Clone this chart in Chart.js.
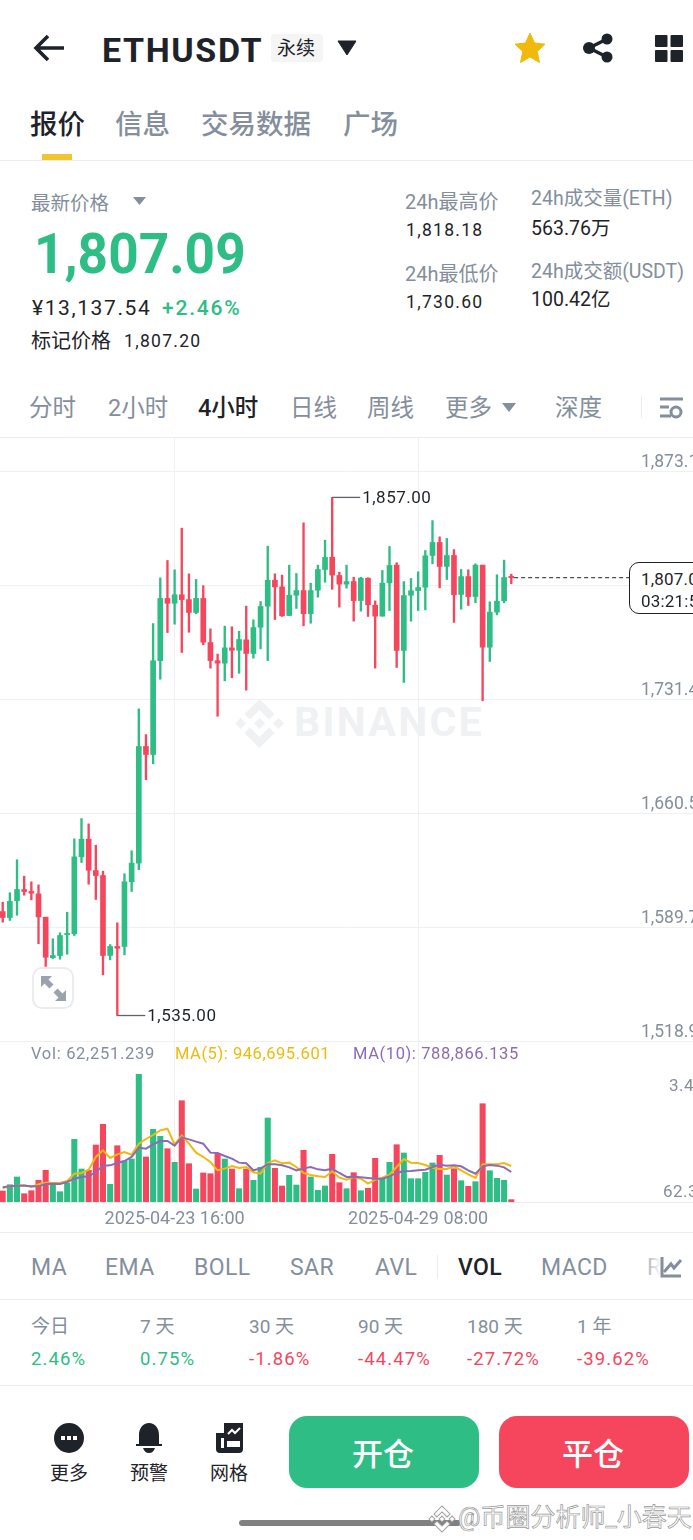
<!DOCTYPE html>
<html><head><meta charset="utf-8">
<script src="https://cdn.jsdelivr.net/npm/chart.js@4"></script>
<style>
html,body{margin:0;padding:0;background:#fff;width:693px;height:1540px;overflow:hidden;font-family:Roboto,"Noto Sans CJK SC",sans-serif}
#ui{position:absolute;left:0;top:0;width:693px;height:1540px;overflow:hidden}
.t{position:absolute;white-space:nowrap;transform:translateY(-50%);line-height:1.2}
.r{position:absolute}
svg{position:absolute;overflow:visible}
canvas{position:absolute;left:0;top:437px}
</style></head><body>
<div id="ui">
<svg id="wm" style="left:235px;top:699px" width="49" height="49" viewBox="0 0 126.6 126.6" fill="#f0f1f3"><path d="M38.730 53.200L63.320 28.620 87.920 53.220 102.220 38.910 63.320 0 24.430 38.900z M0 63.310L14.300 49 28.610 63.310 14.300 77.610z M38.730 73.410L63.320 98 87.920 73.400 102.230 87.690 63.320 126.600 24.430 87.700z M98 63.310L112.300 49 126.600 63.300 112.300 77.610z M77.830 63.300L63.320 48.780 48.810 63.280 63.320 77.780z"/></svg>
<canvas id="c" width="693" height="795" style="width:693px;height:795px"></canvas>
</div>
<script>
// ---- data ----
const highs=[1605.4,1611.3,1631.8,1621.6,1618.1,1616.2,1596.1,1582.7,1586.4,1599.2,
1644.8,1657.4,1654.1,1640.8,1624.7,1579.1,1592.6,1623.1,1637.4,1725.6,
1709.6,1778.6,1807.0,1817.8,1812.0,1837.9,1809.5,1806.0,1802.1,1775.3,
1759.6,1777.0,1776.6,1773.8,1789.4,1780.9,1792.3,1826.7,1809.5,1808.7,
1814.9,1809.7,1841.2,1803.7,1814.9,1830.4,1857.0,1810.5,1814.9,1807.4,
1807.4,1807.0,1792.7,1811.6,1826.5,1816.4,1804.7,1806.6,1810.8,1824.0,
1842.6,1832.5,1831.5,1824.6,1812.2,1812.0,1815.7,1814.9,1792.1,1808.9,
1818.0,1809.3];
const lows=[1593.0,1594.1,1597.3,1609.8,1606.9,1579.6,1565.5,1570.4,1570.0,1573.1,
1584.7,1630.1,1616.6,1607.1,1560.3,1569.6,1535.0,1572.7,1612.1,1625.6,
1681.5,1691.4,1744.0,1773.0,1778.2,1760.6,1773.2,1784.7,1765.4,1750.9,
1721.0,1743.0,1744.9,1747.7,1737.2,1757.1,1762.9,1755.6,1781.1,1783.0,
1783.6,1788.0,1777.2,1778.8,1795.0,1804.3,1799.9,1788.8,1800.6,1780.1,
1786.3,1783.0,1750.9,1783.2,1786.7,1751.3,1742.0,1780.1,1786.7,1787.1,
1815.7,1800.8,1806.0,1779.3,1787.5,1789.8,1791.5,1730.6,1755.0,1784.0,
1791.5,1803.3];
const opens=[1599.6,1595.9,1606.3,1613.3,1612.1,1610.6,1596.1,1570.9,1572.3,1585.2,
1585.8,1633.6,1644.6,1625.1,1622.0,1572.3,1577.9,1577.9,1618.1,1629.7,
1702.2,1697.2,1755.5,1794.2,1791.2,1796.5,1793.5,1785.5,1794.2,1766.8,
1755.5,1754.0,1763.5,1762.0,1768.5,1760.0,1776.3,1789.4,1805.5,1801.4,
1783.6,1796.2,1799.1,1784.7,1799.3,1812.2,1819.8,1808.5,1803.1,1804.7,
1792.9,1806.8,1790.0,1783.2,1803.9,1814.9,1761.9,1796.2,1799.1,1801.2,
1820.9,1829.0,1814.1,1820.9,1796.7,1807.8,1795.4,1814.9,1763.9,1785.7,
1792.7,1807.9];
const closes=[1595.9,1605.9,1613.3,1612.1,1611.0,1596.3,1571.2,1572.3,1584.7,1586.0,
1633.6,1644.6,1625.3,1622.0,1572.3,1577.9,1576.8,1618.1,1629.7,1702.2,
1697.2,1755.5,1794.2,1791.2,1796.5,1793.5,1785.5,1794.2,1767.0,1755.6,
1754.0,1763.5,1762.0,1768.7,1760.0,1776.1,1789.2,1805.5,1801.4,1783.4,
1796.2,1799.1,1784.7,1799.1,1812.2,1819.7,1808.7,1803.1,1804.7,1792.9,
1806.8,1790.3,1783.2,1803.7,1814.7,1761.9,1796.0,1799.0,1801.0,1820.7,
1829.0,1814.1,1820.9,1796.5,1807.8,1795.4,1814.9,1763.9,1785.7,1792.5,
1807.2,1807.09];
// volume in thousands of ETH
const volumes=[289,455,658,218,297,571,834,455,271,500,
1649,868,834,1499,2044,466,1481,1078,1131,3359,
1184,1912,1728,1402,1044,2664,1007,342,763,744,
1270,1131,868,350,868,571,913,2209,886,421,
702,447,1360,658,308,421,1255,508,350,771,
297,360,1149,613,1044,1507,1289,613,613,781,
1026,1228,710,876,560,413,534,2585,823,623,
571,62.25];
const ma5=[368,412,430,447,395,465,508,500,500,552,
745,763,850,1184,1359,1157,1254,1315,1245,1534,
1657,1762,1885,1929,1517,1745,1534,1298,1184,1052,
833,877,947,894,921,780,745,1026,1096,1017,
1035,921,763,710,675,658,807,640,587,658,
614,482,587,640,719,921,1131,1035,1026,973,
903,868,868,938,833,728,631,991,991,991,
1026,946.7];
const ma10=[386,412,430,430,412,412,473,482,473,526,
614,658,675,789,956,964,1026,1078,1184,1429,
1403,1517,1604,1604,1482,1701,1648,1587,1534,1298,
1289,1210,1140,1035,1017,833,885,991,991,964,
912,833,885,921,859,833,877,763,658,666,
649,631,614,614,675,771,807,815,833,850,
921,982,956,964,938,833,745,938,973,956,
912,788.9];
const priceTicks=[1873.1,1802.3,1731.4,1660.5,1589.7,1518.9];
const timeTickIndex=[24,58];
const timeTickLabels=['2025-04-23 16:00','2025-04-29 08:00'];
const volTicks=[3400,62.3];
const volTickLabels=['3.4','62.3'];
const lastPrice=1807.09;
const extremeIndex=[46,16];

// ---- style ----
const UP='#2ebd85',DOWN='#f6465d',GRID='#eef0f2',DARK='#1e2329',GRAY='#848e9c',YEL='#f0b90b',PUR='#8d6ab8';
const NUM='Roboto,"Noto Sans CJK SC",sans-serif';
const colors=closes.map((c,i)=>c>=opens[i]?UP:DOWN);
const idx=closes.map((_,i)=>i);

const extremes={id:'extremes',afterDatasetsDraw(ch){
  const c=ch.ctx,x=ch.scales.x,y=ch.scales.price,v=ch.scales.vol;
  c.save();c.font='17px '+NUM;c.textBaseline='middle';c.textAlign='left';
  try{c.letterSpacing='0.5px'}catch(e){}
  extremeIndex.forEach((i,k)=>{
    const val=k===0?highs[i]:lows[i];
    const px=x.getPixelForValue(i),py=y.getPixelForValue(val);
    c.strokeStyle='#5f646b';c.lineWidth=1.3;c.beginPath();c.moveTo(px,py);c.lineTo(px+28,py);c.stroke();
    c.fillStyle=DARK;
    c.fillText(val.toLocaleString('en-US',{minimumFractionDigits:2}),px+30,py+1);
  });
  c.fillStyle=GRAY;
  volTicks.forEach((t,k)=>{
    const py=v.getPixelForValue(t);
    c.fillText(volTickLabels[k],k===0?669:663,py+(k===0?14:-7));
  });
  c.restore();
}};

new Chart(document.getElementById('c'),{
  type:'bar',
  data:{datasets:[
    {type:'line',label:'MA(10)',data:ma10.map((y,i)=>({x:i,y})),yAxisID:'vol',borderColor:PUR,borderWidth:2,pointRadius:0,order:1},
    {type:'line',label:'MA(5)',data:ma5.map((y,i)=>({x:i,y})),yAxisID:'vol',borderColor:YEL,borderWidth:2,pointRadius:0,order:2},
    {label:'Vol',data:volumes.map((y,i)=>({x:i,y})),yAxisID:'vol',backgroundColor:colors,barThickness:5.4,order:5},
    {label:'Body',data:idx.map(i=>({x:i,y:[opens[i],closes[i]]})),yAxisID:'price',backgroundColor:colors,barThickness:5,minBarLength:1.2,order:3},
    {label:'Wick',data:idx.map(i=>({x:i,y:[lows[i],highs[i]]})),yAxisID:'price',backgroundColor:colors,barThickness:1.7,order:4},
    {type:'line',label:'Last',data:[{x:71.4,y:lastPrice},{x:87.5,y:lastPrice}],yAxisID:'price',borderColor:DARK,borderWidth:1,borderDash:[4,3],pointRadius:0,order:0}
  ]},
  options:{
    responsive:false,maintainAspectRatio:false,animation:false,
    layout:{padding:0},
    plugins:{legend:{display:false},tooltip:{enabled:false}},
    datasets:{bar:{grouped:false,borderSkipped:false}},
    scales:{
      x:{type:'linear',min:-0.377,max:96.37,offset:false,
        afterBuildTicks:s=>{s.ticks=timeTickIndex.map(value=>({value}))},
        afterFit:s=>{s.height=30},
        grid:{color:GRID,lineWidth:1,drawTicks:false,offset:false},border:{display:false},
        ticks:{autoSkip:false,maxRotation:0,padding:7,color:GRAY,font:{family:NUM,size:18},
          callback:v=>timeTickLabels[timeTickIndex.indexOf(v)]||''}},
      price:{type:'linear',position:'left',min:1419.1,max:1894.54,
        afterBuildTicks:s=>{s.ticks=priceTicks.map(value=>({value}))},
        afterFit:s=>{s.width=0;s.paddingTop=0;s.paddingBottom=0;s.paddingLeft=0;s.paddingRight=0},
        grid:{color:GRID,lineWidth:1,drawTicks:false},border:{display:false},
        ticks:{mirror:true,padding:641,labelOffset:-9,color:GRAY,font:{family:NUM,size:17.5},
          callback:v=>v.toLocaleString('en-US',{minimumFractionDigits:1,maximumFractionDigits:1})}},
      vol:{type:'linear',position:'left',display:false,min:0,max:20119.5,grid:{display:false}}
    }
  },
  plugins:[extremes]
});

// ---- surrounding app screen ----
const ui=document.getElementById('ui');
function T(s,x,y,size,color,weight,extra){
  const e=document.createElement('div');e.className='t';e.textContent=s;
  e.style.cssText=`left:${x}px;top:${y}px;font-size:${size}px;color:${color};font-weight:${weight||400};${extra||''}`;
  ui.appendChild(e);return e;
}
function R(x,y,w,h,bg,extra){
  const e=document.createElement('div');e.className='r';
  e.style.cssText=`left:${x}px;top:${y}px;width:${w}px;height:${h}px;background:${bg};${extra||''}`;
  ui.appendChild(e);return e;
}
function S(x,y,w,h,vb,body){
  const d=document.createElement('div');
  d.innerHTML=`<svg style="left:${x}px;top:${y}px" width="${w}" height="${h}" viewBox="${vb}">${body}</svg>`;
  ui.appendChild(d.firstChild);
}
// watermark text beneath canvas
const wm=T('BINANCE',294,723,41,'#f0f1f3',700,'letter-spacing:2.3px;');
ui.insertBefore(wm,document.getElementById('c'));

// header
S(33,33,32,30,'0 0 32 30',`<path d="M15 3 L3 15 L15 27 M3 15 H31" fill="none" stroke="${DARK}" stroke-width="3.6"/>`);
T('ETHUSDT',102,50,34,DARK,700,'letter-spacing:1.6px;');
R(271,34,52,28,'#f5f5f5','border-radius:4px;');
T('永续',277,49,19,DARK);
S(338,41,18,14,'0 0 18 14',`<path d="M0 0 H18 L9 14Z" fill="${DARK}" stroke="${DARK}" stroke-linejoin="round"/>`);
S(514,32,32,32,'0 0 32 32',`<path d="M16 1 L20.500 11 L31 12.200 L23.200 19.500 L25.500 30.500 L16 25 L6.500 30.500 L8.800 19.500 L1 12.200 L11.500 11Z" fill="#f0b90b" stroke="#f0b90b" stroke-linejoin="round"/>`);
S(583,33,30,30,'0 0 30 30',`<g fill="${DARK}"><circle cx="6" cy="15" r="6"/><circle cx="24" cy="6" r="5.500"/><circle cx="24" cy="24" r="5.500"/></g><path d="M6 15 L24 6 M6 15 L24 24" stroke="${DARK}" stroke-width="3.500"/>`);
S(655,35,28,27,'0 0 28 27',`<g fill="${DARK}"><rect width="12.500" height="12" rx="1"/><rect x="15.500" width="12.500" height="12" rx="1"/><rect y="15" width="12.500" height="12" rx="1"/><rect x="15.500" y="15" width="12.500" height="12" rx="1"/></g>`);
// tabs
T('报价',30,124,27.5,DARK,500);T('信息',115,124,27.5,GRAY,500);T('交易数据',201,124,27.5,GRAY,500);T('广场',343,124,27.5,GRAY,500);
R(42,154,30,6,'#f0c52f');R(0,160,693,1,'#eaecef');
// quote
T('最新价格',31,204,19.5,GRAY);
S(133,197,13,8,'0 0 13 8',`<path d="M0 0H13L6.500 8Z" fill="${GRAY}"/>`);
T('1,807.09',34,255,56,UP,700,'transform:translateY(-50%) scaleX(.95);transform-origin:left center;');
T('¥13,137.54',32,309,21,DARK,400,'letter-spacing:1.6px;');
T('+2.46%',162,309,21,UP,500,'letter-spacing:1.8px;');
T('标记价格',31,341,20,DARK);T('1,807.20',124,340.5,17.5,DARK,400,'letter-spacing:1.3px;');
T('24h最高价',405,202,20,GRAY);T('1,818.18',406,229.5,17.5,DARK,400,'letter-spacing:1.3px;');
T('24h成交量(ETH)',531,199,19.5,GRAY);T('563.76万',531,229,19.5,DARK);
T('24h最低价',405,274,20,GRAY);T('1,730.60',406,301.5,17.5,DARK,400,'letter-spacing:1.3px;');
T('24h成交额(USDT)',531,272,19.5,GRAY);T('100.42亿',531,300,19.5,DARK);
// periods
[['分时',29],['2小时',108],['日线',290],['周线',367],['更多',445],['深度',555]].forEach(a=>T(a[0],a[1],408,23.5,GRAY));
T('4小时',198,408,23.5,DARK,500);
S(502,403,14,9,'0 0 14 9',`<path d="M0 0H14L7 9Z" fill="${GRAY}"/>`);
R(641,395,1,23,'#eaecef');
S(659,396,25,23,'0 0 25 23',`<path d="M1 3H24M1 11H10M1 20H12" stroke="${GRAY}" stroke-width="3" fill="none"/><circle cx="17" cy="16" r="5" fill="none" stroke="${GRAY}" stroke-width="3"/>`);
R(0,437,693,1,'#eaecef');
// price tag
R(629,562,90,52,'#fff',`border:1px solid ${DARK};border-radius:10px;box-sizing:border-box;`);
T('1,807.09',641,579,17,DARK,400,'letter-spacing:.2px;');T('03:21:59',641,601,17,DARK,400,'letter-spacing:.2px;');
// expand button
R(32,967,42,42,'#fff','border:2px solid #eaecef;border-radius:10px;box-sizing:border-box;');
S(41,976,25,25,'0 0 25 25',`<g fill="#9aa2ad"><path d="M0 0 H11 L7.500 3.500 L12.500 8.500 L8.500 12.500 L3.500 7.500 L0 11Z"/><path d="M25 25 H14 L17.500 21.500 L12.500 16.500 L16.500 12.500 L21.500 17.500 L25 14Z"/></g>`);
// volume legend
T('Vol: 62,251.239',31,1054,16.5,GRAY,400,'letter-spacing:.7px;');
T('MA(5): 946,695.601',175,1054,16.5,YEL,400,'letter-spacing:.55px;');
T('MA(10): 788,866.135',353,1054,16.5,PUR,400,'letter-spacing:.6px;');
R(0,1202,693,1,'#eaecef');R(0,1232,693,1,'#eaecef');
// indicators
[['MA',31],['EMA',105],['BOLL',194],['SAR',290],['AVL',375],['MACD',541],['RSI',647]].forEach(a=>T(a[0],a[1],1268,23,GRAY,400,'letter-spacing:.4px;'));
R(640,1250,53,34,'linear-gradient(90deg,rgba(255,255,255,0),#fff 40%)');
T('VOL',458,1268,23,DARK,500,'letter-spacing:.4px;');
R(437,1255,1,24,'#eaecef');
S(660,1256,22,22,'0 0 22 22',`<path d="M2 1V20H21" fill="none" stroke="${GRAY}" stroke-width="3"/><path d="M4 16L11 8L14 12L21 4" fill="none" stroke="${GRAY}" stroke-width="3"/>`);
R(0,1299,693,1,'#eaecef');
// performance
[['今日',31,'2.46%',UP],['7 天',140,'0.75%',UP],['30 天',249,'-1.86%',DOWN],['90 天',358,'-44.47%',DOWN],['180 天',467,'-27.72%',DOWN],['1 年',577,'-39.62%',DOWN]].forEach(a=>{
  T(a[0],a[1],1327,19,GRAY);T(a[2],a[1],1359,18.5,a[3],400,'letter-spacing:1.1px;');
});
R(0,1385,693,1,'#eaecef');
// bottom
S(54,1423,30,30,'0 0 30 30',`<circle cx="15" cy="15" r="15" fill="${DARK}"/><g fill="#fff"><rect x="7" y="13" width="4" height="4"/><rect x="13" y="13" width="4" height="4"/><rect x="19" y="13" width="4" height="4"/></g>`);
S(135,1423,28,30,'0 0 28 30',`<path d="M4 21V12C4 5 8 0 14 0S24 5 24 12V21H27V23H1V21Z M8 25H20C19 28 17 30 14 30S9 28 8 25Z" fill="${DARK}"/>`);
S(216,1423,27,30,'0 0 27 30',`<path d="M8 0H27V26Q27 30 23 30H4Q0 30 0 26V10H8Z" fill="${DARK}"/><path d="M12 11L16 7L19 10L24 5" stroke="#fff" stroke-width="2" fill="none"/><rect x="5" y="15" width="3" height="10" fill="#fff"/><rect x="11" y="18" width="13" height="6" fill="#fff"/>`);
T('更多',50,1474,19,DARK);T('预警',130,1474,19,DARK);T('网格',210,1474,19,DARK);
R(289,1416,190,72,UP,'border-radius:18px;');R(499,1416,190,72,DOWN,'border-radius:18px;');
T('开仓',352,1455,31,'#fff',500);T('平仓',562,1455,31,'#fff',500);
R(239,1520,222,6,'#808080','border-radius:3px;');
S(428,1506,28,26,'0 0 126.6 126.6',`<path d="M38.730 53.200L63.320 28.620 87.920 53.220 102.220 38.910 63.320 0 24.430 38.900z M0 63.310L14.300 49 28.610 63.310 14.300 77.610z M38.730 73.410L63.320 98 87.920 73.400 102.230 87.690 63.320 126.600 24.430 87.700z M98 63.310L112.300 49 126.600 63.300 112.300 77.610z M77.830 63.300L63.320 48.780 48.810 63.280 63.320 77.780z" fill="#fff" stroke="#a0a0a0" stroke-width="5"/>`);
T('@币圈分析师_小春天',458,1518,25,'#fff',400,'-webkit-text-stroke:.7px #9a9a9a;');
</script>
</body></html>
